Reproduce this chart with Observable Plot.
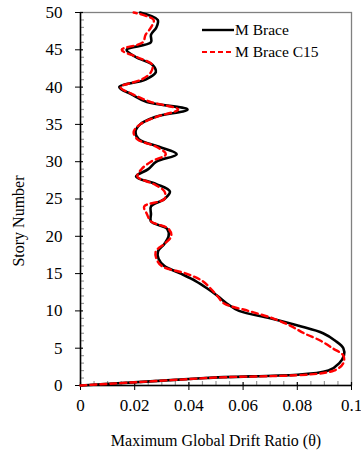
<!DOCTYPE html>
<html>
<head>
<meta charset="utf-8">
<script src="https://cdn.jsdelivr.net/npm/d3@7"></script>
<script src="https://cdn.jsdelivr.net/npm/@observablehq/plot@0.6"></script>
<style>
  html, body { margin: 0; padding: 0; background: #fff; }
  #wrap { position: relative; width: 361px; height: 453px; }
  #wrap svg text { font-family: "Liberation Serif", "Times New Roman", serif; }
  #legend { position: absolute; left: 0; top: 0; pointer-events: none; }
</style>
</head>
<body>
<div id="wrap"></div>
<script>
// Story numbers
const stories = [0,1,2,3,4,5,6,7,8,9,10,11,12,13,14,15,16,17,18,19,20,21,22,23,24,25,
  26,27,28,29,30,31,32,33,34,35,36,37,38,39,40,41,42,43,44,45,46,47,48,49,50];
// Maximum global drift ratio, M Brace
const mBrace = [0,0.046,0.0915,0.0955,0.0972,0.097,0.094,0.0895,0.0805,0.070,0.0585,
  0.054,0.0506,0.0468,0.0425,0.037,0.031,0.0288,0.0286,0.031,0.0325,
  0.032,0.026,0.026,0.026,0.031,0.033,0.028,0.0205,0.025,0.028,
  0.0355,0.029,0.0215,0.0203,0.022,0.0275,0.0395,0.0245,0.019,0.0143,
  0.024,0.0278,0.0265,0.0205,0.017,0.026,0.026,0.028,0.0285,0.022];
// Maximum global drift ratio, M Brace C15
const mBraceC15 = [0,0.0465,0.0935,0.097,0.097,0.093,0.0886,0.0825,0.0775,0.071,0.062,
  0.053,0.0505,0.048,0.045,0.039,0.030,0.028,0.0278,0.031,0.0335,
  0.0325,0.026,0.0245,0.0235,0.031,0.031,0.027,0.021,0.0225,0.026,
  0.0315,0.028,0.021,0.0196,0.022,0.028,0.036,0.026,0.0195,0.0148,
  0.0225,0.026,0.0265,0.021,0.0152,0.023,0.024,0.026,0.027,0.0196];
// Tick values and labels
const xTicks = [0,0.02,0.04,0.06,0.08,0.1];
const xTickLabels = ["0","0.02","0.04","0.06","0.08","0.1"];
const xMinor = [0.005,0.01,0.015,0.025,0.03,0.035,0.045,0.05,0.055,0.065,0.07,0.075,0.085,0.09,0.095];
const yTicks = [0,5,10,15,20,25,30,35,40,45,50];
const yMinor = stories.filter(s => s % 5 !== 0);
const seriesNames = ["M Brace","M Brace C15"];
const xLabel = "Maximum Global Drift Ratio (θ)";
const yLabel = "Story Number";

const rows = stories.map((s, i) => ({story: s, drift: mBrace[i], series: seriesNames[0]}));
const rowsC15 = stories.map((s, i) => ({story: s, drift: mBraceC15[i], series: seriesNames[1]}));

const W = 361, H = 453;
const mt = 12, mb = 68, ml = 80, mr = 10;
const fw = W - ml - mr, fh = H - mt - mb;

const chart = Plot.plot({
  width: W, height: H,
  marginTop: mt, marginBottom: mb, marginLeft: ml, marginRight: mr,
  x: {domain: [0, 0.1]},
  y: {domain: [0, 50]},
  style: {fontFamily: "Liberation Serif, serif", background: "#fff", overflow: "visible"},
  marks: [
    Plot.frame({stroke: "#808080", strokeWidth: 1.3}),
    // minor ticks (inside)
    Plot.ruleY(yMinor, {y: d => d, insetRight: fw - 4, stroke: "#9a9a9a", strokeWidth: 1.2}),
    Plot.ruleX(xMinor, {x: d => d, insetTop: fh - 4, stroke: "#9a9a9a", strokeWidth: 1.2}),
    // major ticks inside part
    Plot.ruleY(yTicks, {y: d => d, insetRight: fw - 3, stroke: "#000", strokeWidth: 1.2}),
    Plot.ruleX(xTicks, {x: d => d, insetTop: fh - 3, stroke: "#000", strokeWidth: 1.2}),
    Plot.axisY({ticks: yTicks, tickSize: 5, tickPadding: 13, fontSize: 17, label: null, tickFormat: d => String(d)}),
    Plot.axisX({ticks: xTicks, tickSize: 5, tickPadding: 8, fontSize: 17, label: null,
      tickFormat: d => xTickLabels[xTicks.indexOf(d)]}),
    Plot.ruleX([0], {stroke: "#000", strokeWidth: 1.5}),
    Plot.ruleY([0], {stroke: "#000", strokeWidth: 1.5}),
    Plot.line(rows, {x: "drift", y: "story", stroke: "#000", strokeWidth: 2.6, curve: "catmull-rom"}),
    Plot.line(rowsC15, {x: "drift", y: "story", stroke: "#ff0000", strokeWidth: 2.4, strokeDasharray: "6,4", curve: "catmull-rom"}),
    Plot.text([yLabel], {frameAnchor: "left", rotate: -90, dx: -62, dy: 22, fontSize: 16, fill: "#000", textAnchor: "middle", lineAnchor: "middle"}),
    Plot.text([xLabel], {frameAnchor: "bottom", dy: 55, fontSize: 16, fill: "#000", textAnchor: "middle", lineAnchor: "middle", style: "letter-spacing:1.5px"})
  ]
});

const wrap = document.getElementById("wrap");
wrap.appendChild(chart);

// Legend overlay (top right, inside frame)
const ns = "http://www.w3.org/2000/svg";
const leg = document.createElementNS(ns, "svg");
leg.setAttribute("id", "legend");
leg.setAttribute("width", W);
leg.setAttribute("height", 80);
const legStyles = [
  {stroke: "#000", dash: null, w: 2.4},
  {stroke: "#ff0000", dash: "5,3", w: 2.2}
];
seriesNames.forEach((name, i) => {
  const y = 30 + i * 22;
  const ln = document.createElementNS(ns, "line");
  ln.setAttribute("x1", 202); ln.setAttribute("x2", 234);
  ln.setAttribute("y1", y); ln.setAttribute("y2", y);
  ln.setAttribute("stroke", legStyles[i].stroke);
  ln.setAttribute("stroke-width", legStyles[i].w);
  if (legStyles[i].dash) ln.setAttribute("stroke-dasharray", legStyles[i].dash);
  leg.appendChild(ln);
  const t = document.createElementNS(ns, "text");
  t.setAttribute("x", 235); t.setAttribute("y", y + 5);
  t.setAttribute("font-size", 15.5);
  t.setAttribute("font-family", "Liberation Serif, serif");
  t.textContent = name;
  leg.appendChild(t);
});
wrap.appendChild(leg);
</script>
</body>
</html>
